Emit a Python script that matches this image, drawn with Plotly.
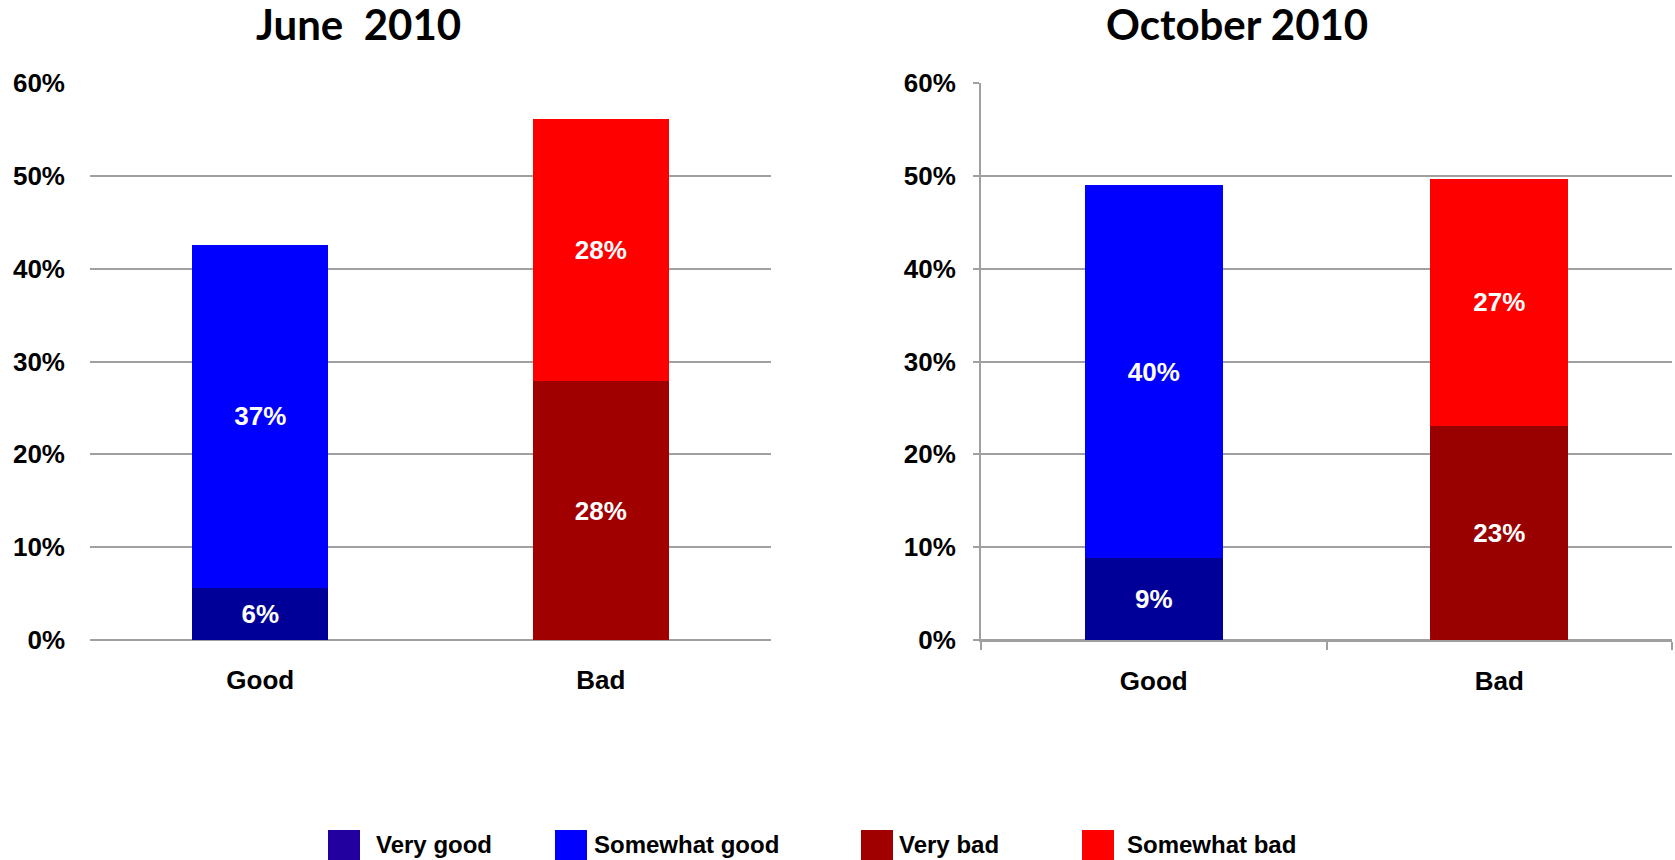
import plotly.graph_objects as go

# data (percent)
categories = ['Good', 'Bad']
panel_titles = ['June  2010', 'October 2010']

june_very_good = [5.6, 0]
june_somewhat_good = [37.0, 0]
june_very_bad = [0, 27.9]
june_somewhat_bad = [0, 28.2]

oct_very_good = [8.8, 0]
oct_somewhat_good = [40.2, 0]
oct_very_bad = [0, 23.1]
oct_somewhat_bad = [0, 26.6]

legend_names = ['Very good', 'Somewhat good', 'Very bad', 'Somewhat bad']
legend_colors = ['#2200A0', '#0000FF', '#A00000', '#FF0000']
june_colors = ['#000099', '#0000FF', '#A00000', '#FF0000']
oct_colors = ['#000099', '#0000FF', '#990000', '#FF0000']

W, H = 1675, 860
FONT = 'Liberation Sans, Arial, sans-serif'

fig = go.Figure()

panels = [
    ('x', 'y', [june_very_good, june_somewhat_good, june_very_bad, june_somewhat_bad], june_colors),
    ('x2', 'y2', [oct_very_good, oct_somewhat_good, oct_very_bad, oct_somewhat_bad], oct_colors),
]
for xa, ya, series, cols in panels:
    for name, vals, col in zip(legend_names, series, cols):
        fig.add_trace(go.Bar(
            x=categories, y=vals, name=name, xaxis=xa, yaxis=ya,
            marker=dict(color=col, line=dict(width=0)),
            width=0.4, showlegend=False,
            text=[f'{v:.0f}%' if v > 0 else '' for v in vals],
            textposition='inside', insidetextanchor='middle', textangle=0,
            textfont=dict(family=FONT, size=26, color='white', weight='bold'),
            hoverinfo='skip',
        ))

grid = '#A0A0A0'
tickfont = dict(family=FONT, size=26, color='black', weight='bold')
yax = dict(range=[0, 60], dtick=10, ticksuffix='%', showgrid=True, gridcolor=grid,
           gridwidth=2, zeroline=True, zerolinecolor=grid, zerolinewidth=2,
           tickfont=tickfont, fixedrange=True, automargin=False)
xax = dict(tickfont=tickfont, showgrid=False, automargin=False, fixedrange=True)

fig.update_layout(
    width=W, height=H, barmode='stack',
    margin=dict(l=0, r=0, t=0, b=0),
    paper_bgcolor='white', plot_bgcolor='white',
    uniformtext=dict(minsize=26, mode='show'),
    xaxis=dict(domain=[90 / W, 771 / W], anchor='y', ticklabelstandoff=22, **xax),
    yaxis=dict(domain=[(H - 640) / H, (H - 83) / H], anchor='x', ticklabelstandoff=24, **yax),
    xaxis2=dict(domain=[981 / W, 1672 / W], anchor='y2', ticks='outside', tickson='boundaries',
                ticklen=8, tickcolor=grid, tickwidth=2, showline=True, linecolor=grid,
                linewidth=2, ticklabelstandoff=17, **xax),
    yaxis2=dict(domain=[(H - 640) / H, (H - 83) / H], anchor='x2', ticks='outside', ticklen=6,
                tickcolor=grid, tickwidth=2, showline=True, linecolor=grid, linewidth=2,
                ticklabelstandoff=12, **yax),
    showlegend=False,
)

# panel titles
for title, xc in zip(panel_titles, [358, 1237]):
    fig.add_annotation(text=title, x=xc / W, y=(H - 24) / H, xref='paper', yref='paper',
                       showarrow=False, xanchor='center', yanchor='middle',
                       font=dict(family='Lato, sans-serif', size=42, color='black', weight='bold'))

# legend drawn below both panels
swatch_x = [328, 555, 861, 1082]
text_x = [375, 593, 898, 1126]
for name, col, sx, tx in zip(legend_names, legend_colors, swatch_x, text_x):
    fig.add_shape(type='rect', xref='paper', yref='paper',
                  x0=sx / W, x1=(sx + 32) / W, y0=0, y1=30 / H,
                  fillcolor=col, line=dict(width=0))
    fig.add_annotation(text=name, x=tx / W, y=16 / H, xref='paper', yref='paper',
                       showarrow=False, xanchor='left', yanchor='middle', borderpad=0,
                       font=dict(family=FONT, size=24, color='black', weight='bold'))

fig.write_html('out.html', config={'displayModeBar': False},
               post_script="document.body.style.margin='0';")
